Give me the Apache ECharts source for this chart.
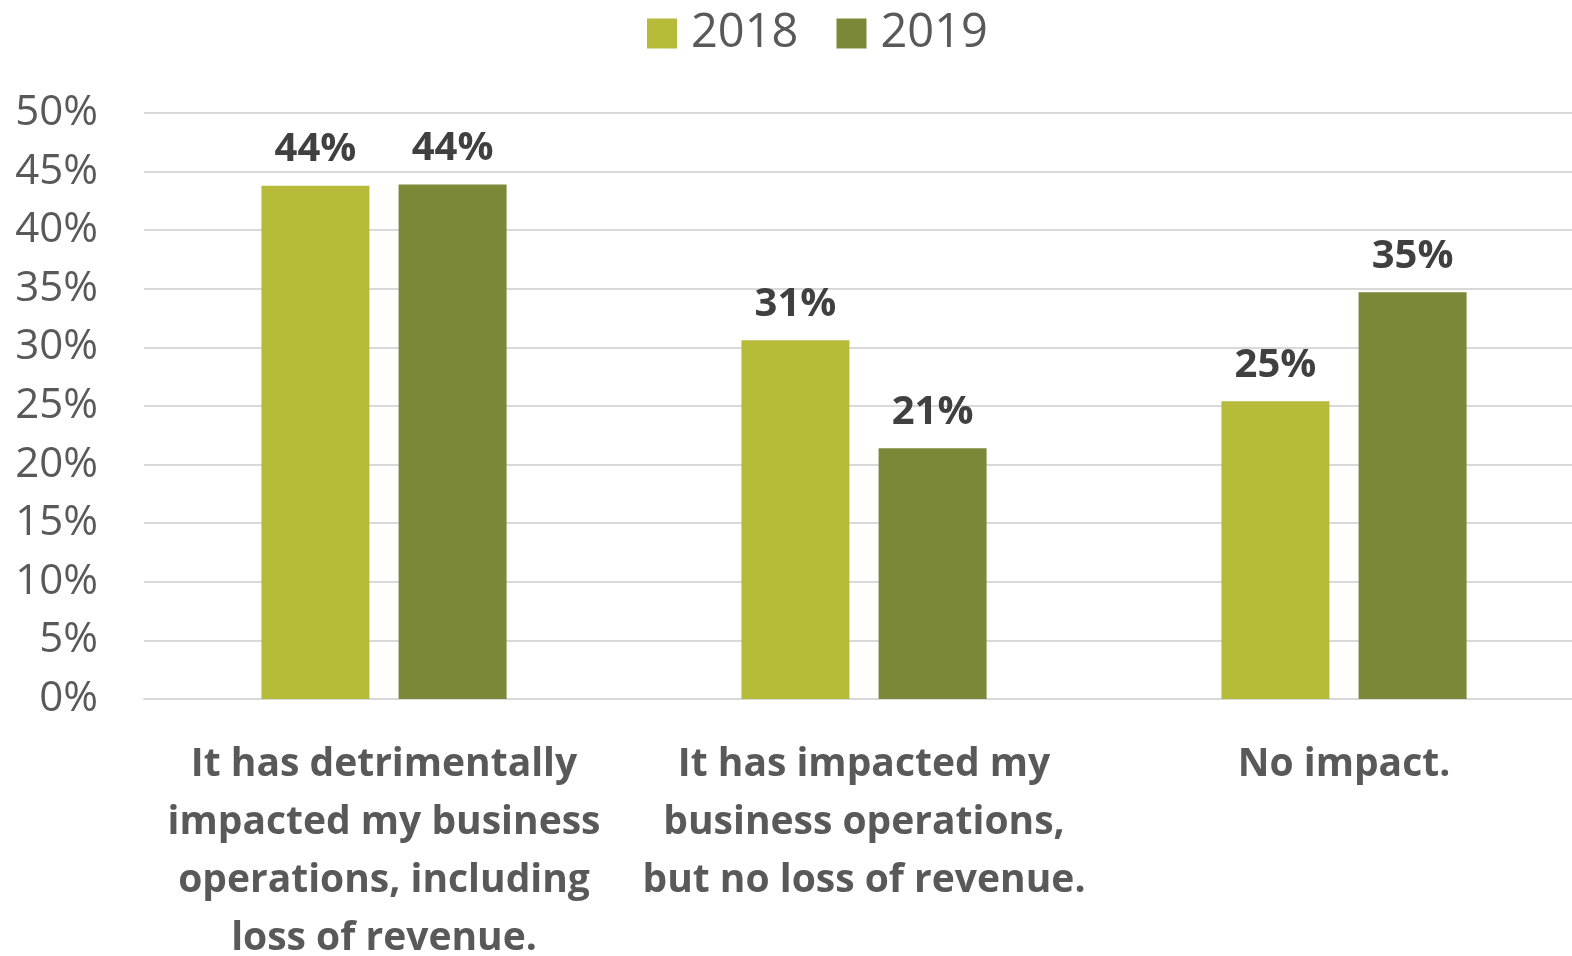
<!DOCTYPE html>
<html>
<head>
<meta charset="utf-8">
<script src="https://cdn.jsdelivr.net/npm/echarts@6/dist/echarts.min.js"></script>
<style>
html,body{margin:0;padding:0;background:#fff;}
#chart{width:1572px;height:956px;}
</style>
</head>
<body>
<div id="chart"></div>
<script>
const categories = [
  "It has detrimentally\nimpacted my business\noperations, including\nloss of revenue.",
  "It has impacted my\nbusiness operations,\nbut no loss of revenue.",
  "No impact."
];
const seriesNames = ["2018", "2019"];
const values2018 = [43.8, 30.6, 25.4];
const values2019 = [43.9, 21.4, 34.7];
const yTicks = [0, 5, 10, 15, 20, 25, 30, 35, 40, 45, 50];

const FONT = "'Open Sans', 'Liberation Sans', sans-serif";
const chart = echarts.init(document.getElementById('chart'), null, {renderer: 'canvas'});

const labelCfg = {
  show: true,
  position: 'top',
  distance: 16,
  formatter: p => Math.round(p.value) + '%',
  color: '#404040',
  fontFamily: FONT,
  fontWeight: 'bold',
  fontSize: 40
};

chart.setOption({
  animation: false,
  backgroundColor: '#ffffff',
  legend: {
    top: 10,
    left: 647,
    itemWidth: 30,
    itemHeight: 30,
    itemGap: 38,
    icon: 'rect',
    padding: 0,
    textStyle: {color: '#595959', fontFamily: FONT, fontSize: 47, padding: [0, 0, 0, 9]},
    data: seriesNames
  },
  grid: {left: 144, top: 113, bottom: 257, width: 1440, containLabel: false, outerBoundsMode: 'none'},
  xAxis: {
    type: 'category',
    data: categories,
    axisLine: {show: true, lineStyle: {color: '#D9D9D9', width: 2}},
    axisTick: {show: false},
    axisLabel: {
      interval: 0,
      margin: 37,
      color: '#595959',
      fontFamily: FONT,
      fontWeight: 'bold',
      fontSize: 39,
      lineHeight: 58
    }
  },
  yAxis: {
    type: 'value',
    min: yTicks[0],
    max: yTicks[yTicks.length - 1],
    interval: 5,
    axisLine: {show: false},
    axisTick: {show: false},
    splitLine: {lineStyle: {color: '#D9D9D9', width: 2}},
    axisLabel: {
      margin: 46,
      color: '#595959',
      fontFamily: FONT,
      fontSize: 42,
      formatter: v => v + '%'
    }
  },
  series: [
    {name: seriesNames[0], type: 'bar', data: values2018, barWidth: 108, barGap: '27%',
     itemStyle: {color: '#B6BB3A'}, label: labelCfg},
    {name: seriesNames[1], type: 'bar', data: values2019, barWidth: 108, barGap: '27%',
     itemStyle: {color: '#7A8837'}, label: labelCfg}
  ]
});
</script>
</body>
</html>
